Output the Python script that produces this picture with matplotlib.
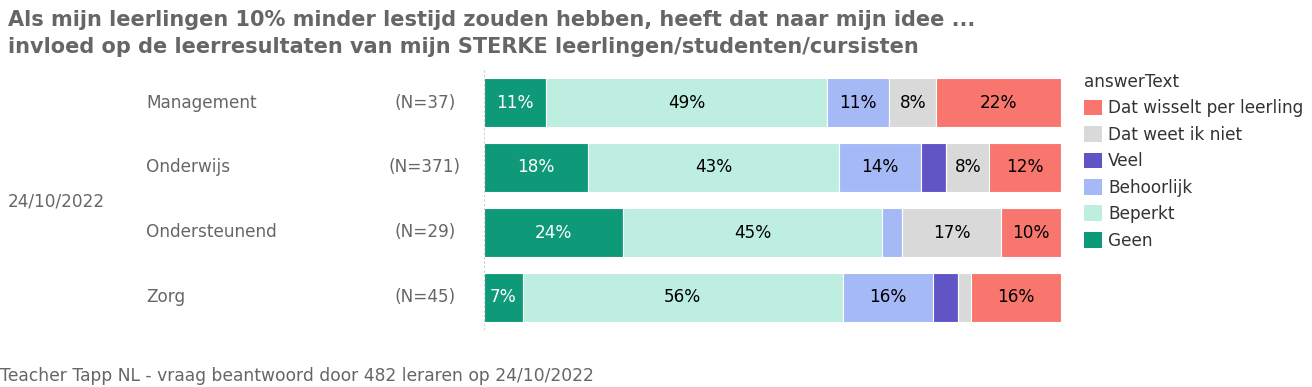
import matplotlib
matplotlib.use('Agg')
from matplotlib import pyplot as plt
from matplotlib.patches import Patch
import numpy as np

groups = ['Management', 'Onderwijs', 'Ondersteunend', 'Zorg']
n_labels = ['(N=37)', '(N=371)', '(N=29)', '(N=45)']
date_label = '24/10/2022'
answers = ['Geen', 'Beperkt', 'Behoorlijk', 'Veel', 'Dat weet ik niet', 'Dat wisselt per leerling']
colors = ['#0e9a78', '#bdeee0', '#a6b9f7', '#6155c6', '#d9d9d9', '#f8766d']

# percentage per answer, per group (same order as groups)
geen = [10.8, 18.1, 24.1, 6.7]
beperkt = [48.6, 43.4, 44.8, 55.6]
behoorlijk = [10.8, 14.3, 3.4, 15.6]
veel = [0.0, 4.3, 0.0, 4.4]
weet_niet = [8.1, 7.5, 17.2, 2.2]
wisselt = [21.6, 12.4, 10.3, 15.6]

title = ('Als mijn leerlingen 10% minder lestijd zouden hebben, heeft dat naar mijn idee ...\n'
         'invloed op de leerresultaten van mijn STERKE leerlingen/studenten/cursisten')
caption = 'Teacher Tapp NL - vraag beantwoord door 482 leraren op 24/10/2022'

series = [geen, beperkt, behoorlijk, veel, weet_niet, wisselt]
data = np.array(series, dtype=float)
data = data / data.sum(axis=0) * 100

fig = plt.figure(figsize=(13.12, 3.87), dpi=100)
W, H = 1312, 387
ax = fig.add_axes([484 / W, 1 - 330 / H, (1061 - 484) / W, 260 / H])

fs = 12.2
y = np.arange(len(groups))
left = np.zeros(len(groups))
for i, ans in enumerate(answers):
    ax.barh(y, data[i], left=left, height=0.75, color=colors[i],
            edgecolor='white', linewidth=0.8)
    for j in range(len(groups)):
        if data[i][j] >= 5:
            ax.text(left[j] + data[i][j] / 2, y[j], '{:.0f}%'.format(series[i][j]),
                    ha='center', va='center', fontsize=fs,
                    color='white' if ans == 'Geen' else 'black')
    left += data[i]

ax.set_xlim(0, 100)
ax.set_ylim(3.5, -0.5)
ax.axis('off')
ax.axvline(0, color='#cccccc', linewidth=0.8, linestyle=(0, (2, 2)))

gray = '#666666'
for j, g in enumerate(groups):
    yc = 1 - (102.5 + 65 * j) / H
    fig.text(146 / W, yc, g, ha='left', va='center', fontsize=fs, color=gray)
    fig.text(425 / W, yc, n_labels[j], ha='center', va='center', fontsize=fs, color=gray)
fig.text(8 / W, 1 - 201 / H, date_label, ha='left', va='center', fontsize=fs, color=gray)

fig.text(8 / W, 1 - 10 / H, title, ha='left', va='top', fontsize=15,
         fontweight='bold', color=gray, linespacing=1.45)
fig.text(0, 1 - 376 / H, caption, ha='left', va='center', fontsize=12.3, color=gray)

handles = [Patch(facecolor=colors[i], label=answers[i]) for i in range(len(answers) - 1, -1, -1)]
leg = fig.legend(handles=handles, title='answerText', loc='upper left',
                 bbox_to_anchor=(1077 / W, 1 - 66 / H), frameon=False,
                 fontsize=fs, title_fontsize=fs, handlelength=1.05, handleheight=1.05,
                 handletextpad=0.4, labelspacing=0.5, borderaxespad=0)
leg._legend_box.align = 'left'
for t in leg.get_texts():
    t.set_color('#333333')
leg.get_title().set_color('#333333')

fig.savefig('out.png', dpi=100)
